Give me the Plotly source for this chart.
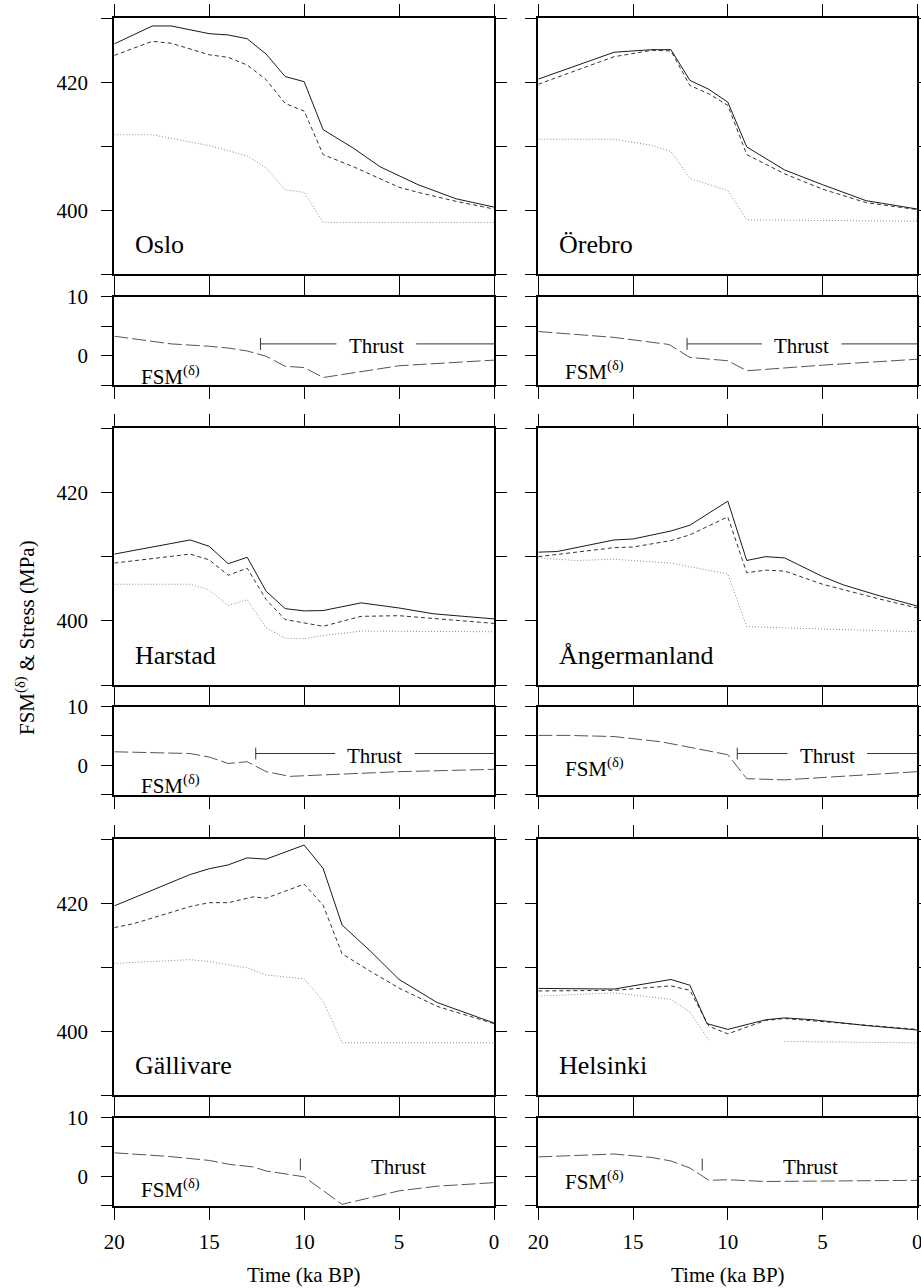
import plotly.graph_objects as go

W, H = 921, 1288
FONT = "Liberation Serif, Tinos, DejaVu Serif, Noto Serif, FreeSerif, Nimbus Roman, Times, serif"

sites = ["Oslo", "Örebro", "Harstad", "Ångermanland", "Gällivare", "Helsinki"]

# ---------------- data (time in ka BP, stress in MPa) ----------------
oslo_solid_t = [20, 18, 17, 15, 14, 13, 12, 11, 10, 9, 7.4, 6, 4, 2, 0]
oslo_solid_v = [426.0, 428.8, 428.8, 427.6, 427.4, 426.8, 424.4, 420.9, 420.1, 412.6, 409.7, 406.8, 404.0, 401.8, 400.5]
oslo_dash_t = [20, 18, 17, 15, 14, 13, 12, 11, 10, 9, 7.4, 5, 4, 2, 0]
oslo_dash_v = [424.2, 426.4, 426.1, 424.3, 423.9, 422.7, 420.4, 416.7, 415.5, 408.7, 406.8, 403.6, 402.8, 401.4, 400.2]
oslo_dot_t = [20, 18, 15, 14, 13, 12, 11, 10, 9.4, 9, 0]
oslo_dot_v = [411.8, 411.8, 410.1, 409.3, 408.5, 406.6, 403.2, 402.8, 400.1, 398.1, 398.1]
oslo_fsm_t = [20, 17, 15, 14, 13, 12, 11, 10, 9, 6.7, 5, 0]
oslo_fsm_v = [3.3, 2.0, 1.6, 1.3, 0.8, -0.1, -1.8, -2.0, -3.7, -2.6, -1.7, -0.75]

orebro_solid_t = [20, 16, 14, 13, 12, 11, 10, 9, 7, 5, 2.7, 0]
orebro_solid_v = [420.5, 424.7, 425.1, 425.1, 420.3, 418.9, 416.9, 409.9, 406.3, 404.0, 401.5, 400.2]
orebro_dash_t = [20, 16, 14, 13, 12, 11, 10, 9, 7, 5, 2.7, 0]
orebro_dash_v = [419.7, 424.0, 425.0, 424.9, 419.5, 418.2, 416.4, 408.7, 405.7, 403.3, 401.2, 400.1]
orebro_dot_t = [20, 16, 14.1, 13, 12, 10, 9, 0]
orebro_dot_v = [411.1, 411.1, 410.2, 409.2, 405.0, 403.1, 398.5, 398.3]
orebro_fsm_t = [20, 16, 13.1, 12, 10, 9, 5, 0]
orebro_fsm_v = [4.1, 3.1, 1.9, -0.3, -0.85, -2.55, -1.6, -0.6]

harstad_solid_t = [20, 16, 15, 14, 13, 12, 11, 10, 9, 7, 5, 3.2, 0]
harstad_solid_v = [410.4, 412.6, 411.6, 408.9, 409.9, 404.6, 401.9, 401.55, 401.6, 402.8, 402.0, 401.1, 400.3]
harstad_dash_t = [20, 16, 15, 14, 13, 12, 11, 9, 7, 5, 0]
harstad_dash_v = [409.0, 410.4, 409.5, 407.1, 408.2, 403.3, 400.2, 399.15, 400.7, 400.8, 399.6]
harstad_dot_t = [20, 16, 15, 14, 13, 12, 11, 10, 9, 7, 0]
harstad_dot_v = [405.7, 405.7, 404.8, 402.4, 403.3, 398.9, 397.3, 397.2, 397.7, 398.4, 398.3]
harstad_fsm_t = [20, 16, 15, 14, 13, 12, 10.75, 10, 7, 5, 0]
harstad_fsm_v = [2.3, 2.0, 1.4, 0.3, 0.6, -1.1, -1.9, -1.8, -1.3, -1.1, -0.7]

anger_solid_t = [20, 19, 16, 15, 13, 12, 10, 9, 8, 7, 5, 3.9, 2, 0]
anger_solid_v = [410.7, 410.8, 412.6, 412.75, 414.0, 414.9, 418.65, 409.4, 410.0, 409.8, 406.9, 405.6, 403.9, 402.3]
anger_dash_t = [20, 16, 15, 13, 12, 10, 9, 8, 7, 5, 2, 0]
anger_dash_v = [410.0, 411.4, 411.5, 412.5, 413.4, 416.2, 407.5, 407.9, 407.75, 405.7, 403.4, 402.0]
anger_dot_t = [20, 18, 16, 13, 10, 9, 7, 0]
anger_dot_v = [409.8, 409.4, 409.6, 409.0, 407.3, 399.1, 398.9, 398.3]
anger_fsm_t = [20, 18.5, 16, 13.5, 10, 9, 7, 0]
anger_fsm_v = [5.1, 5.1, 4.9, 4.0, 1.8, -2.3, -2.5, -1.1]

galli_solid_t = [20, 18, 16, 15, 14, 13, 12, 10, 9, 8, 6.5, 5, 3, 0]
galli_solid_v = [419.6, 422.1, 424.5, 425.4, 426.0, 427.1, 426.9, 429.1, 425.45, 416.6, 412.5, 408.1, 404.5, 401.3]
galli_dash_t = [20, 19, 18, 16, 15, 14, 12.7, 12, 10, 9, 8, 6.5, 5, 3, 0]
galli_dash_v = [416.2, 416.8, 417.7, 419.5, 420.1, 420.1, 421.0, 420.8, 423.0, 419.7, 412.1, 409.35, 406.75, 403.9, 401.2]
galli_dot_t = [20, 16, 15, 13, 12, 10, 9, 8, 0]
galli_dot_v = [410.6, 411.2, 410.9, 409.9, 408.8, 408.2, 404.7, 398.2, 398.2]
galli_fsm_t = [20, 17.2, 15, 13.9, 12.7, 12, 10, 8, 5, 3, 0]
galli_fsm_v = [4.0, 3.4, 2.7, 2.0, 1.6, 0.9, -0.1, -4.8, -2.5, -1.7, -1.1]

helsi_solid_t = [20, 16, 13, 12, 11.1, 10, 8, 7, 5.5, 2.7, 0]
helsi_solid_v = [406.7, 406.6, 408.1, 407.2, 401.2, 400.3, 401.8, 402.1, 401.8, 400.9, 400.2]
helsi_dash_t = [20, 16, 13, 12, 11, 10, 8, 7, 0]
helsi_dash_v = [406.3, 406.4, 407.1, 406.4, 400.8, 399.6, 401.7, 402.0, 400.3]
helsi_dot_t = [20, 16, 13, 12, 11, 10, 9, 8, 7, 0]
helsi_dot_v = [405.5, 406.0, 405.0, 403.0, 398.6, None, None, None, 398.4, 398.2]
helsi_fsm_t = [20, 16, 14, 13, 12, 11, 10, 8, 0]
helsi_fsm_v = [3.3, 3.8, 3.2, 2.6, 1.4, -0.7, -0.6, -0.9, -0.7]

# Thrust onset (ka BP), label position, whether a horizontal bar is drawn
thrust_start = [12.3, 12.15, 12.55, 9.5, 10.2, 11.35]
thrust_label_t = [6.2, 6.1, 6.27, 4.75, 5.04, 5.66]
thrust_bar = [True, True, True, True, False, False]
fsm_label_v = [-3.3, -2.5, -3.3, -0.4, -2.1, -0.8]

x_ticks = [20, 15, 10, 5, 0]
stress_ticks = [400, 420]
stress_minor = [390, 410, 430]
fsm_ticks = [0, 10]
fsm_minor = [-5, 5]

series = [
    (oslo_solid_t, oslo_solid_v, oslo_dash_t, oslo_dash_v, oslo_dot_t, oslo_dot_v, oslo_fsm_t, oslo_fsm_v),
    (orebro_solid_t, orebro_solid_v, orebro_dash_t, orebro_dash_v, orebro_dot_t, orebro_dot_v, orebro_fsm_t, orebro_fsm_v),
    (harstad_solid_t, harstad_solid_v, harstad_dash_t, harstad_dash_v, harstad_dot_t, harstad_dot_v, harstad_fsm_t, harstad_fsm_v),
    (anger_solid_t, anger_solid_v, anger_dash_t, anger_dash_v, anger_dot_t, anger_dot_v, anger_fsm_t, anger_fsm_v),
    (galli_solid_t, galli_solid_v, galli_dash_t, galli_dash_v, galli_dot_t, galli_dot_v, galli_fsm_t, galli_fsm_v),
    (helsi_solid_t, helsi_solid_v, helsi_dash_t, helsi_dash_v, helsi_dot_t, helsi_dot_v, helsi_fsm_t, helsi_fsm_v),
]

# ---------------- layout geometry (pixels) ----------------
col_px = [(114.3, 494.0), (538.3, 917.3)]
main_px = [(18.3, 274.3), (428.3, 685.0), (839.3, 1095.3)]
fsm_px = [(296.7, 385.2), (706.7, 794.5), (1117.7, 1205.5)]


def xd(p):
    return [p[0] / W, p[1] / W]


def yd(p):
    return [1 - p[1] / H, 1 - p[0] / H]


fig = go.Figure()
layout = dict(
    width=W, height=H, margin=dict(l=0, r=0, t=0, b=0, autoexpand=False),
    paper_bgcolor="white", plot_bgcolor="white", showlegend=False,
    font=dict(family=FONT, size=21, color="black"),
)
annotations = []

C_SOLID = "#1a1a1a"
C_DASH = "#333333"
C_DOT = "#8a8a8a"
C_FSM = "#555555"

for i, site in enumerate(sites):
    row, col = divmod(i, 2)
    ax_main = 2 * i + 1
    ax_fsm = 2 * i + 2
    xm, ym = f"x{ax_main}", f"y{ax_main}"
    xf, yf = f"x{ax_fsm}", f"y{ax_fsm}"
    st, sv, dt_, dv, ot, ov, ft, fv = series[i]

    fig.add_trace(go.Scatter(x=ot, y=ov, xaxis=xm, yaxis=ym, mode="lines",
                             line=dict(color=C_DOT, width=1, dash="1px,2px")))
    fig.add_trace(go.Scatter(x=dt_, y=dv, xaxis=xm, yaxis=ym, mode="lines",
                             line=dict(color=C_DASH, width=1, dash="4px,3px")))
    fig.add_trace(go.Scatter(x=st, y=sv, xaxis=xm, yaxis=ym, mode="lines",
                             line=dict(color=C_SOLID, width=1)))
    fig.add_trace(go.Scatter(x=ft, y=fv, xaxis=xf, yaxis=yf, mode="lines",
                             line=dict(color=C_FSM, width=1, dash="14px,4px")))

    # thrust marker
    ts, tl = thrust_start[i], thrust_label_t[i]
    bar_y = 2.0
    fig.add_trace(go.Scatter(x=[ts, ts], y=[bar_y - 1.0, bar_y + 1.0], xaxis=xf, yaxis=yf,
                             mode="lines", line=dict(color="#333333", width=1)))
    if thrust_bar[i]:
        half_gap = 2.1
        fig.add_trace(go.Scatter(x=[ts, tl + half_gap, None, tl - half_gap, 0],
                                 y=[bar_y, bar_y, None, bar_y, bar_y], xaxis=xf, yaxis=yf,
                                 mode="lines", line=dict(color="#333333", width=1)))
    annotations.append(dict(x=tl, y=1.6, xref=xf, yref=yf, text="Thrust", showarrow=False,
                            xanchor="center", yanchor="middle", font=dict(family=FONT, size=21)))
    annotations.append(dict(x=18.7, y=fsm_label_v[i], xref=xf, yref=yf,
                            text="FSM<sup>(δ)</sup>", showarrow=False,
                            xanchor="left", yanchor="middle", font=dict(family=FONT, size=21)))
    annotations.append(dict(x=19.0, y=394.6, xref=xm, yref=ym, text=site, showarrow=False,
                            xanchor="left", yanchor="middle", font=dict(family=FONT, size=26)))

    common_x = dict(range=[20, 0], tickvals=x_ticks, ticks="outside", ticklen=12, tickwidth=1,
                    tickcolor="black", showline=True, linewidth=2, linecolor="black",
                    mirror="allticks", showgrid=False, zeroline=False, domain=xd(col_px[col]),
                    automargin=False, ticklabeloverflow="allow")
    common_y = dict(ticks="outside", ticklen=11, tickwidth=1, tickcolor="black",
                    showline=True, linewidth=2, linecolor="black", mirror="allticks",
                    showgrid=False, zeroline=False, ticklabelstandoff=9, automargin=False,
                    tickfont=dict(family=FONT, size=21))
    sfx_m = "" if ax_main == 1 else str(ax_main)
    sfx_f = str(ax_fsm)
    layout["xaxis" + sfx_m] = dict(common_x, anchor=ym, showticklabels=False)
    layout["yaxis" + sfx_m] = dict(common_y, anchor=xm, domain=yd(main_px[row]), range=[390, 430],
                                   tickvals=stress_ticks, showticklabels=(col == 0),
                                   minor=dict(tickvals=stress_minor, ticks="outside", ticklen=11,
                                              tickwidth=1, tickcolor="black", showgrid=False))
    layout["xaxis" + sfx_f] = dict(common_x, anchor=yf, showticklabels=(row == 2),
                                   ticklabelstandoff=4, tickfont=dict(family=FONT, size=21))
    layout["yaxis" + sfx_f] = dict(common_y, anchor=xf, domain=yd(fsm_px[row]), range=[-5, 10],
                                   tickvals=fsm_ticks, showticklabels=(col == 0),
                                   minor=dict(tickvals=fsm_minor, ticks="outside", ticklen=11,
                                              tickwidth=1, tickcolor="black", showgrid=False))

for col in range(2):
    cx = (col_px[col][0] + col_px[col][1]) / 2 / W
    annotations.append(dict(x=cx, y=1 - 1275 / H, xref="paper", yref="paper", text="Time (ka BP)",
                            showarrow=False, xanchor="center", yanchor="middle",
                            font=dict(family=FONT, size=21)))

annotations.append(dict(x=25 / W, y=1 - 638 / H, xref="paper", yref="paper",
                        text="FSM<sup>(δ)</sup> & Stress (MPa)", textangle=-90, showarrow=False,
                        xanchor="center", yanchor="middle", font=dict(family=FONT, size=21)))

layout["annotations"] = annotations
fig.update_layout(**layout)
fig.write_html("out.html", config={"displayModeBar": False})
